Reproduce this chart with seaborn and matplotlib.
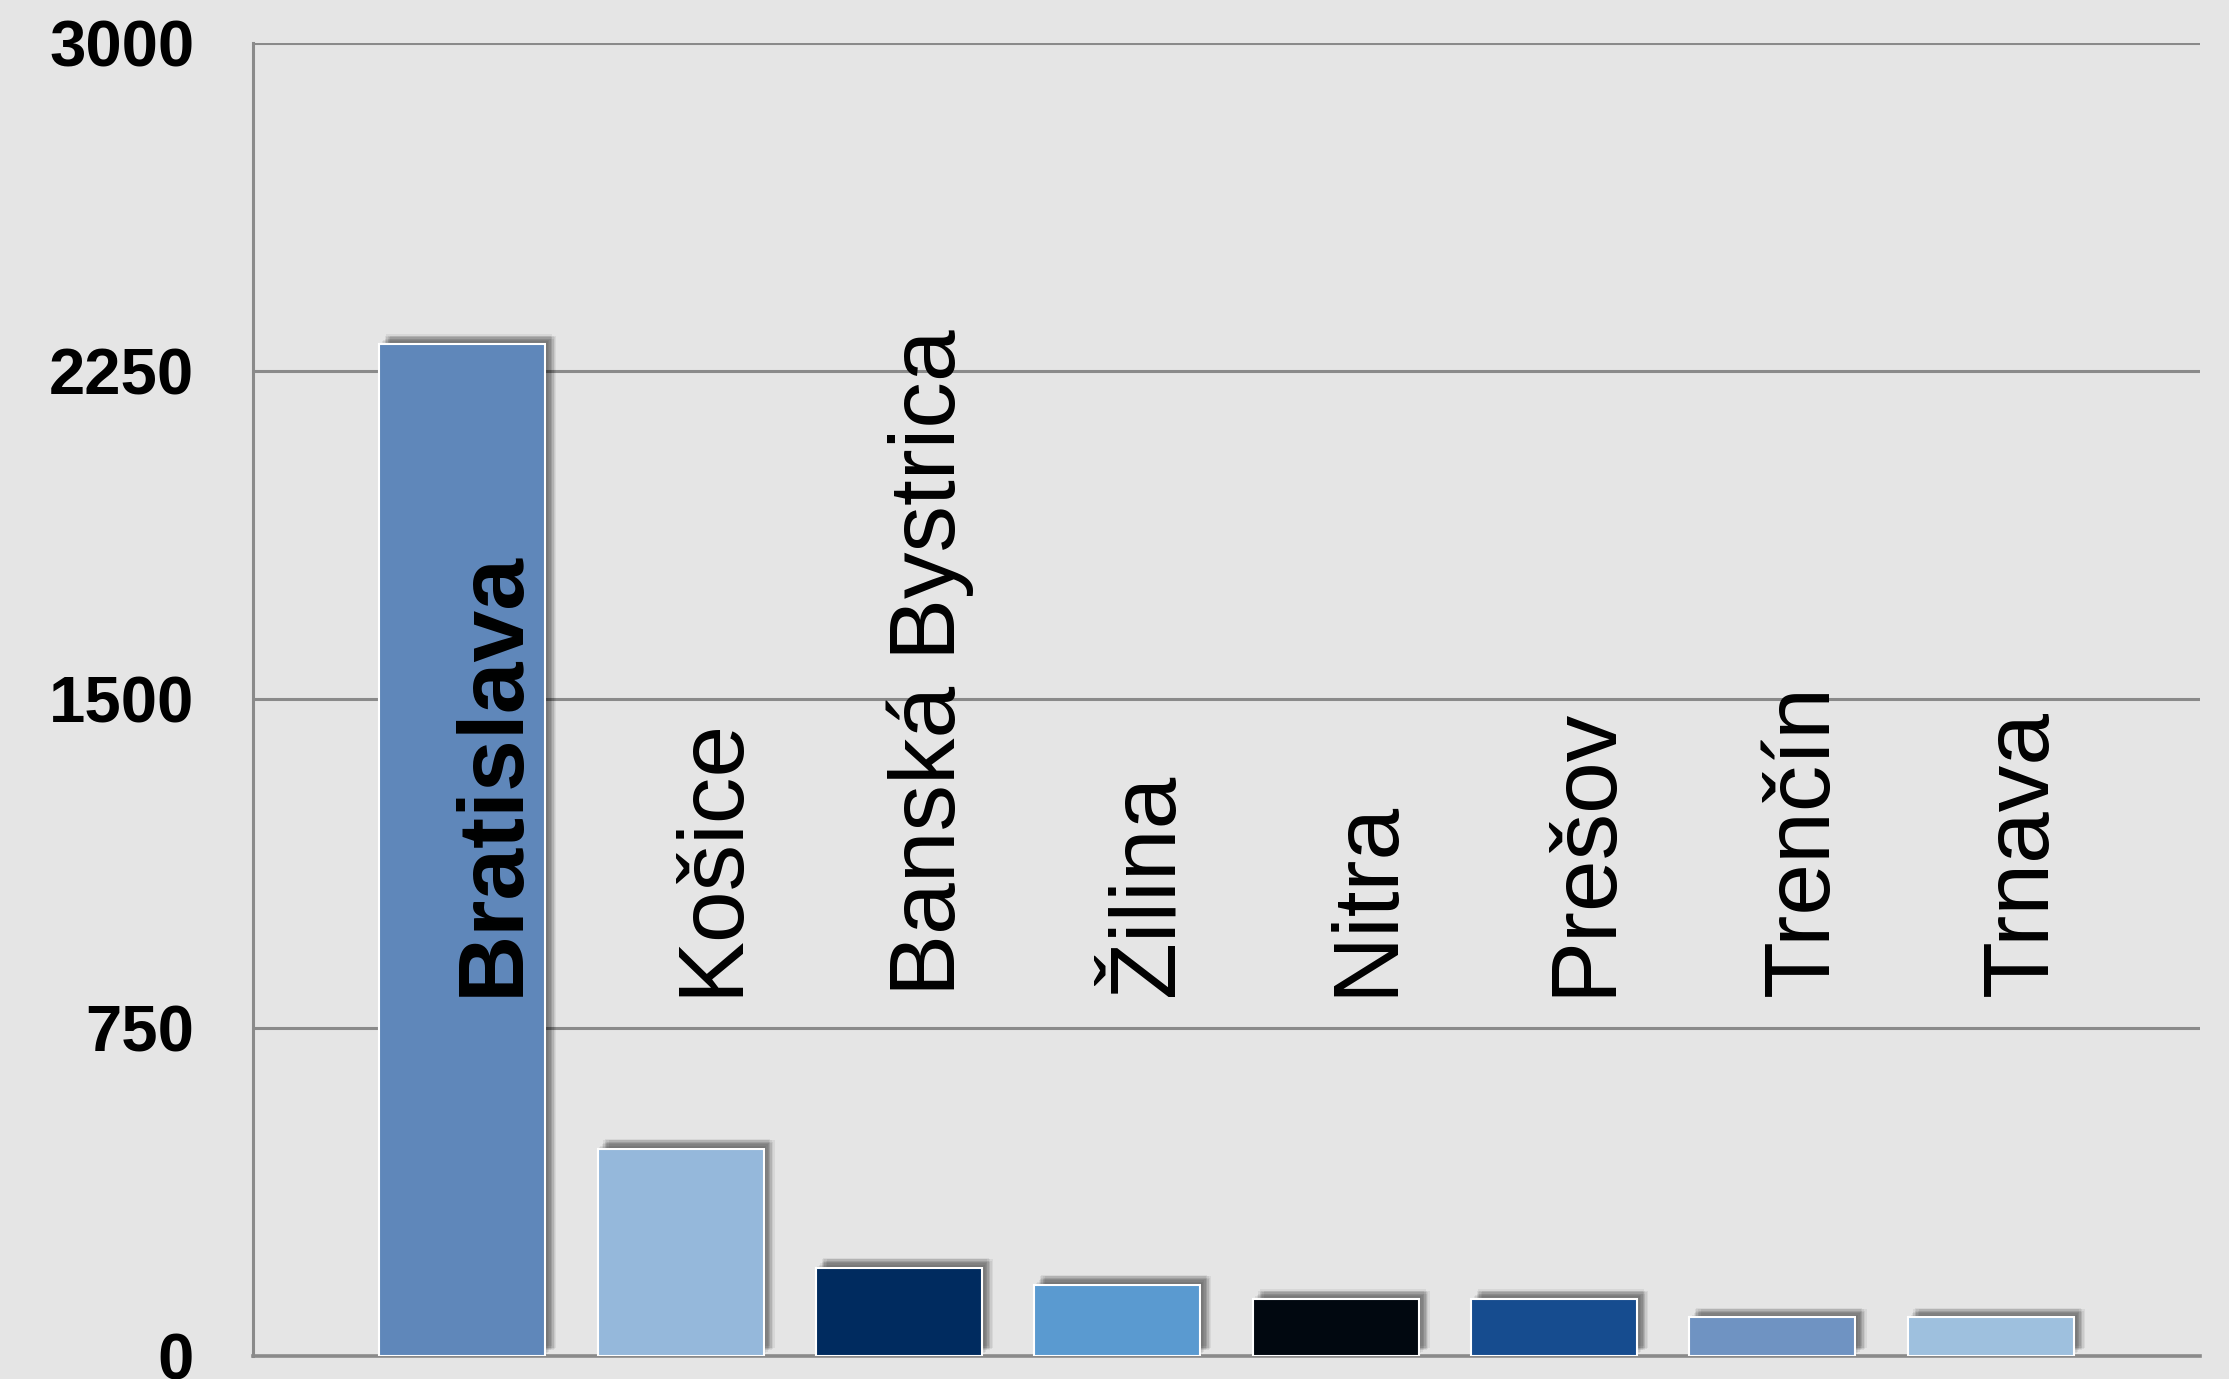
import seaborn as sns
import matplotlib.pyplot as plt
import matplotlib.patheffects as pe

# regions and values
regions = ['Bratislava', 'Košice', 'Banská Bystrica', 'Žilina', 'Nitra', 'Prešov', 'Trenčín', 'Trnava']
values = [2312, 474, 202, 163, 130, 130, 88, 88]
colors = ['#5f87ba', '#95b8db', '#002b5f', '#5a9ad0', '#010810', '#164c8f', '#6f93c2', '#9ec0de']
yticks = [0, 750, 1500, 2250, 3000]

bg = '#e5e5e5'
grey = '#8a8a8a'

sns.set_style('white')
plt.rcParams['font.family'] = ['Liberation Sans', 'DejaVu Sans']

fig = plt.figure(figsize=(22.29, 13.79), dpi=100, facecolor=bg)
ax = fig.add_axes([0.1135, 0.0167, 0.8735, 0.9521])
ax.set_facecolor(bg)

ax.grid(axis='y', color=grey, linewidth=2.2, zorder=0)
ax.set_axisbelow(True)

sns.barplot(x=regions, y=values, hue=regions, palette=colors, width=0.76,
            saturation=1, edgecolor='white', linewidth=1.5, legend=False,
            ax=ax, zorder=3)

# soft drop shadow behind the bars
shadow = [pe.SimplePatchShadow(offset=o, shadow_rgbFace='black', alpha=0.06)
          for o in [(1, 1), (2, 2), (3, 3), (4, 4), (5, 5), (6, 4), (4, 6),
                    (6, 6), (7, 5), (5, 7), (8, 6)]]
for p in ax.patches:
    p.set_path_effects(shadow + [pe.Normal()])

# rotated labels
for i, name in enumerate(regions):
    ax.text(i + 0.255, 822, name, rotation=90, rotation_mode='anchor',
            ha='left', va='baseline', fontsize=67,
            fontweight='bold' if i == 0 else 'normal', color='black', zorder=5)

ax.set_ylim(0, 3000)
ax.set_xlim(-0.958, len(regions) - 1 + 0.958)
ax.set_yticks(yticks)
ax.set_yticklabels([str(t) for t in yticks], fontsize=47, fontweight='bold',
                   color='black')
ax.set_xticks([-0.958, len(regions) - 1 + 0.958])
ax.set_xticklabels(['', ''])
ax.tick_params(axis='both', length=14.4, width=2.2, color=grey, direction='out')
ax.tick_params(axis='y', pad=28)
ax.set_xlabel('')
ax.set_ylabel('')

for s in ['top', 'right']:
    ax.spines[s].set_visible(False)
ax.spines['left'].set_color(grey)
ax.spines['left'].set_linewidth(2.2)
ax.spines['bottom'].set_color(grey)
ax.spines['bottom'].set_linewidth(2.6)

fig.savefig('out.png', dpi=100, facecolor=bg)
